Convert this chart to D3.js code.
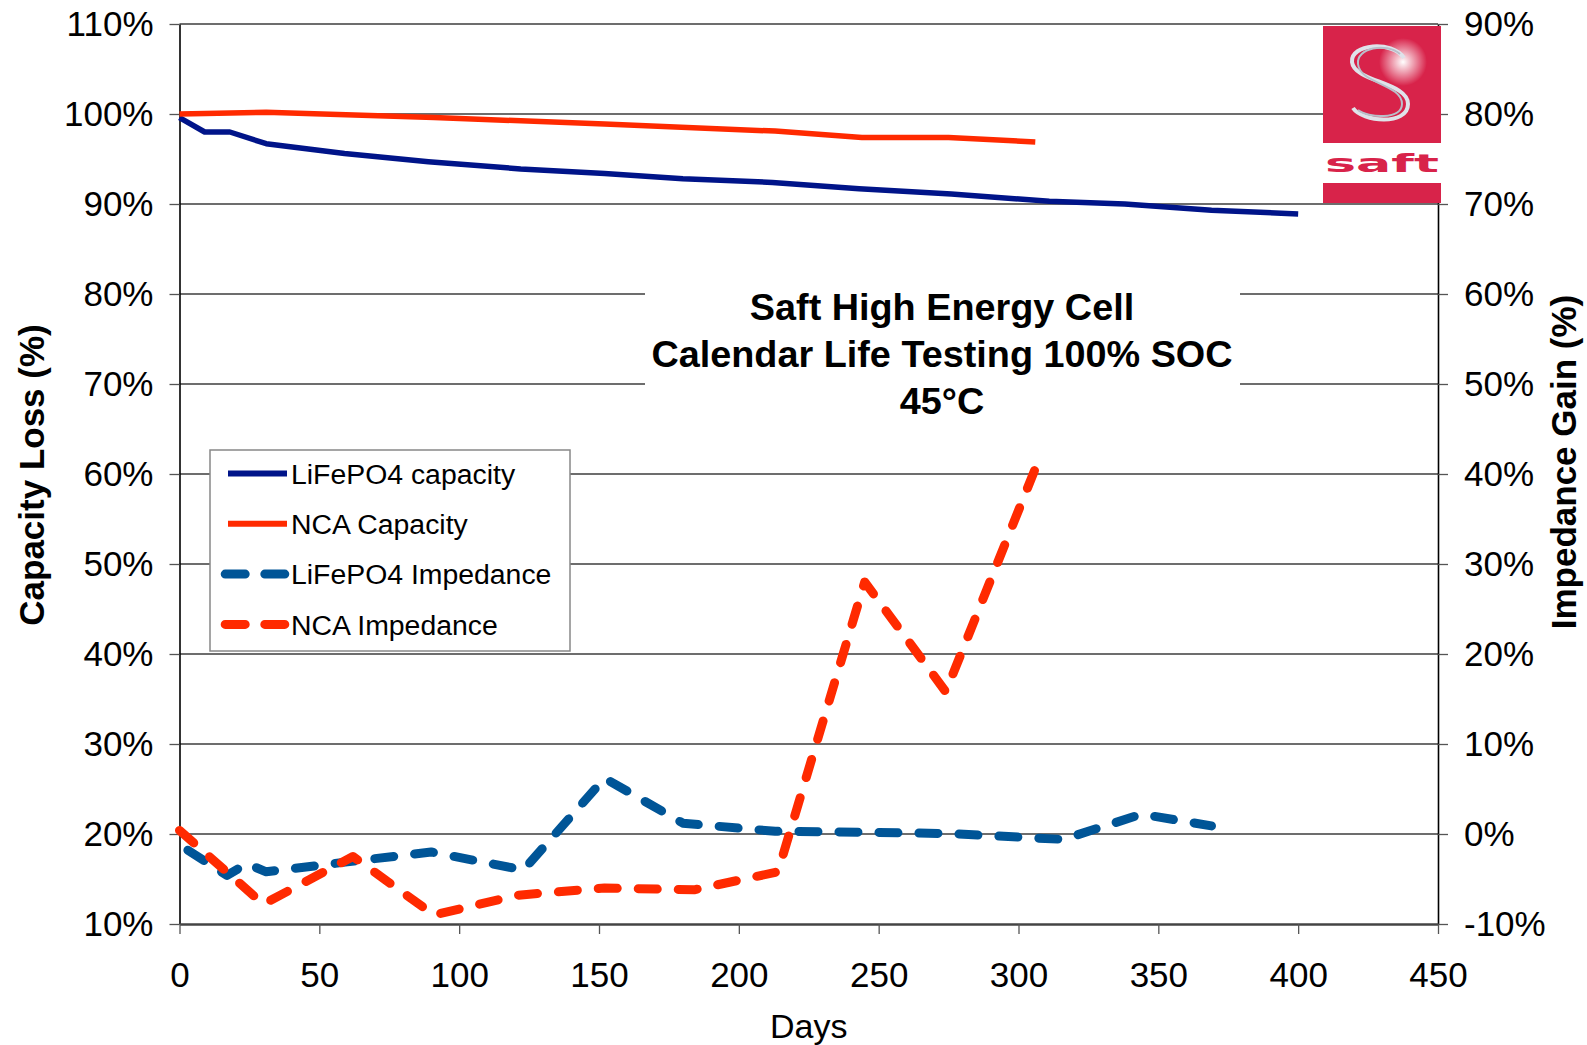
<!DOCTYPE html>
<html>
  <head>
    <meta charset="utf-8">
    <title>Saft calendar life</title>
    <style>
      body { margin: 0; background-color: white; }
      svg { display: block; font-family: "Liberation Sans", Arial, sans-serif; }
    </style>
  </head>
  <body>
<svg width="1587" height="1045"></svg>
<script src="https://d3js.org/d3.v7.min.js"></script>
<script>

// days and values
var lfpCapDays = [0, 9, 18, 31, 59, 89, 122, 152, 180, 212, 243, 276, 311, 338, 369, 400];
var lfpCapPct  = [99.6, 98.0, 98.0, 96.7, 95.6, 94.7, 93.9, 93.4, 92.8, 92.4, 91.7, 91.1, 90.3, 90.0, 89.3, 88.9];

var ncaCapDays = [0, 31, 91, 152, 213, 244, 275, 306];
var ncaCapPct  = [100.0, 100.2, 99.6, 98.9, 98.1, 97.4, 97.4, 96.9];

// impedance gain, right axis
var lfpImpDays = [3, 17, 24, 31, 60, 90, 123, 152, 180, 213, 244, 275, 316, 344, 369];
var lfpImpPct  = [-1.8, -4.6, -3.3, -4.2, -3.1, -2.0, -4.0, 6.2, 1.2, 0.3, 0.2, 0.05, -0.6, 2.2, 0.9];

var ncaImpDays = [0, 30, 62, 91, 121, 152, 184, 214, 245, 274, 306];
var ncaImpPct  = [0.4, -7.8, -2.5, -9.0, -6.8, -6.0, -6.2, -4.2, 28.0, 15.8, 40.6];

var dayTicks = [0, 50, 100, 150, 200, 250, 300, 350, 400, 450];
var capTicks = [10, 20, 30, 40, 50, 60, 70, 80, 90, 100, 110];
var impTicks = [-10, 0, 10, 20, 30, 40, 50, 60, 70, 80, 90];

var titleLines = ["Saft High Energy Cell", "Calendar Life Testing 100% SOC", "45\u00B0C"];
var legendNames = ["LiFePO4 capacity", "NCA Capacity", "LiFePO4 Impedance", "NCA Impedance"];

var navy = "#001489",
    red = "#ff2a00",
    steel = "#005597";

var svg = d3.select("svg"),
    plotL = 179.5, plotR = 1438, plotT = 24, plotB = 924;

var x = d3.scaleLinear().domain([0, 450]).range([plotL, plotR]);
var yCap = d3.scaleLinear().domain([10, 110]).range([plotB, plotT]);
var yImp = d3.scaleLinear().domain([-10, 90]).range([plotB, plotT]);

function zip(a, b) { return a.map(function(d, i) { return [d, b[i]]; }); }

// gridlines
svg.append("g")
  .selectAll("line")
  .data(capTicks.slice(1))
  .enter().append("line")
    .attr("x1", plotL).attr("x2", plotR)
    .attr("y1", function(d) { return yCap(d); })
    .attr("y2", function(d) { return yCap(d); })
    .attr("stroke", "#3c3c3c")
    .attr("stroke-width", 1.3);

// axes
var pct = function(d) { return d + "%"; };

var gl = svg.append("g")
    .attr("transform", "translate(" + plotL + ",0)")
    .call(d3.axisLeft(yCap).tickValues(capTicks).tickFormat(pct).tickSize(10).tickSizeOuter(0).tickPadding(16));

var gr = svg.append("g")
    .attr("transform", "translate(" + plotR + ",0)")
    .call(d3.axisRight(yImp).tickValues(impTicks).tickFormat(pct).tickSize(10).tickSizeOuter(0).tickPadding(16));

var gb = svg.append("g")
    .attr("transform", "translate(0," + plotB + ")")
    .call(d3.axisBottom(x).tickValues(dayTicks).tickSize(10).tickSizeOuter(0).tickPadding(28));

[gl, gr, gb].forEach(function(g) {
  g.selectAll("text")
      .attr("font-family", "Liberation Sans, Arial, sans-serif")
      .attr("font-size", 35)
      .attr("fill", "#000");
  g.selectAll(".tick line").attr("stroke", "#555").attr("stroke-width", 1.3);
  g.select(".domain").attr("stroke", "#000").attr("stroke-width", 1.6);
});
gb.select(".domain").attr("stroke", "#444").attr("stroke-width", 2.5);

// axis titles
svg.append("text")
    .attr("transform", "translate(44,475) rotate(-90)")
    .attr("text-anchor", "middle")
    .attr("font-size", 35)
    .attr("font-weight", "bold")
    .text("Capacity Loss (%)");

svg.append("text")
    .attr("transform", "translate(1576,462) rotate(-90)")
    .attr("text-anchor", "middle")
    .attr("font-size", 35)
    .attr("font-weight", "bold")
    .text("Impedance Gain (%)");

svg.append("text")
    .attr("x", (plotL + plotR) / 2)
    .attr("y", 1038)
    .attr("text-anchor", "middle")
    .attr("font-size", 34)
    .text("Days");

// title with white backing
svg.append("rect")
    .attr("x", 645).attr("y", 272)
    .attr("width", 595).attr("height", 150)
    .attr("fill", "white");

svg.append("g")
  .selectAll("text")
  .data(titleLines)
  .enter().append("text")
    .attr("x", 942)
    .attr("y", function(d, i) { return 320 + i * 47; })
    .attr("text-anchor", "middle")
    .attr("font-size", 37.8)
    .attr("font-weight", "bold")
    .text(function(d) { return d; });

// series
var lineCap = d3.line()
    .x(function(d) { return x(d[0]); })
    .y(function(d) { return yCap(d[1]); });

var lineImp = d3.line()
    .x(function(d) { return x(d[0]); })
    .y(function(d) { return yImp(d[1]); });

var series = [
  {name: legendNames[0], data: zip(lfpCapDays, lfpCapPct), line: lineCap, color: navy, dash: null},
  {name: legendNames[1], data: zip(ncaCapDays, ncaCapPct), line: lineCap, color: red, dash: null},
  {name: legendNames[2], data: zip(lfpImpDays, lfpImpPct), line: lineImp, color: steel, dash: "19,21"},
  {name: legendNames[3], data: zip(ncaImpDays, ncaImpPct), line: lineImp, color: red, dash: "19,21"}
];

series.forEach(function(s) {
  svg.append("path")
      .datum(s.data)
      .attr("fill", "none")
      .attr("stroke", s.color)
      .attr("stroke-width", s.dash ? 9 : 5.5)
      .attr("stroke-linejoin", "round")
      .attr("stroke-linecap", s.dash ? "round" : "butt")
      .attr("stroke-dasharray", s.dash)
      .attr("d", s.line);
});

// legend
var legend = svg.append("g");

legend.append("rect")
    .attr("x", 210).attr("y", 450)
    .attr("width", 360).attr("height", 201)
    .attr("fill", "white")
    .attr("stroke", "#888")
    .attr("stroke-width", 1.5);

var item = legend.selectAll(".item")
  .data(series)
  .enter().append("g")
    .attr("transform", function(d, i) { return "translate(0," + (473.5 + i * 50.3) + ")"; });

item.append("line")
    .attr("x1", function(d) { return d.dash ? 225.2 : 228; })
    .attr("x2", function(d) { return d.dash ? 284.8 : 287; })
    .attr("stroke", function(d) { return d.color; })
    .attr("stroke-width", function(d) { return d.dash ? 9 : 6; })
    .attr("stroke-linecap", function(d) { return d.dash ? "round" : "butt"; })
    .attr("stroke-dasharray", function(d) { return d.dash ? "20,19.6" : null; });

item.append("text")
    .attr("x", 291)
    .attr("dy", "0.36em")
    .attr("font-size", 28.4)
    .text(function(d) { return d.name; });

// saft logo
var logo = svg.append("g");
var glow = svg.append("defs").append("radialGradient").attr("id", "glow");
glow.append("stop").attr("offset", "0%").attr("stop-color", "#fff").attr("stop-opacity", 1);
glow.append("stop").attr("offset", "100%").attr("stop-color", "#fff").attr("stop-opacity", 0);

logo.append("rect")
    .attr("x", 1323).attr("y", 26)
    .attr("width", 118).attr("height", 177)
    .attr("fill", "#d8234a");
logo.append("rect")
    .attr("x", 1323).attr("y", 143)
    .attr("width", 118).attr("height", 40)
    .attr("fill", "white");
logo.append("circle")
    .attr("cx", 1403).attr("cy", 62).attr("r", 24)
    .attr("fill", "url(#glow)");
logo.append("path")
    .attr("d", "M1404,58 C1392,40 1350,44 1352,62 C1354,82 1408,82 1408,104 C1408,126 1362,122 1353,108")
    .attr("fill", "none")
    .attr("stroke", "#dfe3ea")
    .attr("stroke-width", 4);
logo.append("path")
    .attr("d", "M1400,54 C1386,42 1356,48 1358,64 C1360,84 1402,84 1402,104 C1402,120 1368,118 1358,110")
    .attr("fill", "none")
    .attr("stroke", "#b9bfca")
    .attr("stroke-width", 2);
logo.append("text")
    .attr("x", 1325).attr("y", 172)
    .attr("textLength", 114)
    .attr("lengthAdjust", "spacingAndGlyphs")
    .attr("font-family", "DejaVu Sans, sans-serif")
    .attr("font-size", 24)
    .attr("font-weight", "bold")
    .attr("fill", "#d8234a")
    .text("saft");

</script>
  </body>
</html>
